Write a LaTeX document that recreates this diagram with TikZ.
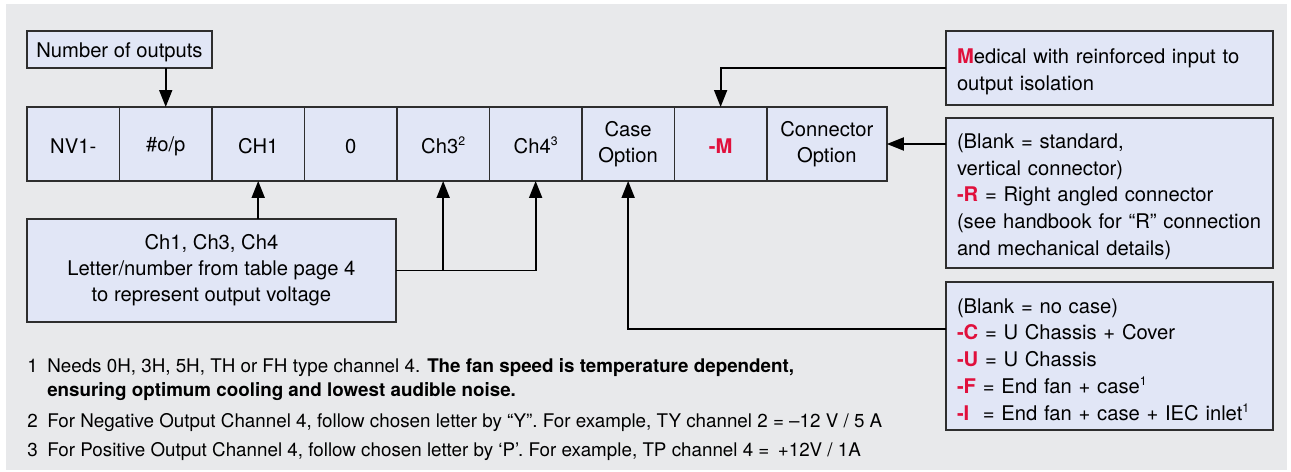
\documentclass[tikz,border=0pt]{standalone}
\usepackage{fontspec}
\setmainfont{TeX Gyre Heros}
\usepackage{xcolor}
\usepackage{tikz}
\usetikzlibrary{arrows.meta,positioning,calc}

\definecolor{bggray}{HTML}{E8E9EB}
\definecolor{boxfill}{HTML}{E1E6F6}
\definecolor{edgegray}{HTML}{2E2E2E}
\definecolor{codered}{HTML}{E0103C}
\newcommand{\code}[1]{\textbf{\color{codered}#1}}
\newcommand{\supnum}[1]{\raisebox{0.75ex}{\fontsize{7}{7}\selectfont #1}}

\begin{document}
\begin{tikzpicture}[
    x=0.02cm, y=-0.02cm,
    node distance=0pt,
    cell/.style={rectangle, draw=edgegray, fill=boxfill, line width=0.8pt, align=center, minimum height=1.48cm, minimum width=1.85cm, inner sep=0pt, outer sep=0pt, font=\fontsize{11.5}{14.8}\selectfont, execute at begin node={\rule{0pt}{11.3pt}}},
    twoline/.style={execute at begin node={\rule{0pt}{14.6pt}}},
    note/.style={rectangle, draw=edgegray, fill=boxfill, line width=0.8pt, align=left, anchor=north west, text width=6.1cm, inner xsep=0.22cm, inner ysep=0pt, outer sep=0pt, font=\fontsize{11.5}{15.2}\selectfont, execute at begin node={\rule{0pt}{12.4pt}}},
    fnote/.style={anchor=west, inner sep=0pt, font=\fontsize{10.7}{13.6}\selectfont},
    arrow/.style={-{Triangle[length=0.34cm, width=0.26cm]}, line width=1.1pt, draw=black}
]
    \useasboundingbox (0,0) rectangle (1291,472);
    \fill [bggray] (6,4) rectangle (1287,470);

    \node [cell, anchor=west] (nv) at (27,144) {NV1-};
    \node [cell, right=of nv] (op) {\#o/p};
    \node [cell, right=of op] (c1) {CH1};
    \node [cell, right=of c1] (zero) {0};
    \node [cell, right=of zero] (c3) {Ch3\supnum{2}};
    \node [cell, right=of c3] (c4) {Ch4\supnum{3}};
    \node [cell, twoline, right=of c4] (cs) {Case\\Option};
    \node [cell, right=of cs] (mm) {\code{-M}};
    \node [cell, twoline, right=of mm, minimum width=2.4cm] (co) {Connector\\Option};

    \node [cell, anchor=north west, minimum width=3.7cm, minimum height=0.74cm] (nout) at (27,31) {Number of outputs};
    \node [cell, anchor=north west, minimum width=7.38cm, minimum height=2.06cm, execute at begin node={\rule{0pt}{15.5pt}}] (chbox) at (27,219) {Ch1, Ch3, Ch4\\Letter/number from table page 4\\to represent output voltage};

    \node [note, minimum height=1.48cm] (medbox) at (946,31) {\code{M}edical with reinforced input to\\output isolation};
    \node [note, minimum height=3cm] (conbox) at (946,118) {(Blank = standard,\\vertical connector)\\\code{-R} = Right angled connector\\(see handbook for ``R'' connection\\and mechanical details)};
    \node [note, minimum height=2.96cm, execute at begin node={}] (casebox) at (946,282) {(Blank = no case)\\\code{-C} = U Chassis + Cover\\\code{-U} = U Chassis\\\code{-F} = End fan + case\supnum{1}\\\code{-I}\ \ = End fan + case + IEC inlet\supnum{1}};

    \node [fnote] (fn1) at (27,380) {\begin{tabular}{@{}l@{\hspace{5.4pt}}l@{}}1 & Needs 0H, 3H, 5H, TH or FH type channel 4. \textbf{The fan speed is temperature dependent,}\\ & \textbf{ensuring optimum cooling and lowest audible noise.}\end{tabular}};
    \node [fnote] (fn2) at (27,423) {\begin{tabular}{@{}l@{\hspace{5.4pt}}l@{}}2 & For Negative Output Channel 4, follow chosen letter by ``Y''. For example, TY channel 2 = --12 V / 5 A\end{tabular}};
    \node [fnote] (fn3) at (27,452) {\begin{tabular}{@{}l@{\hspace{5.4pt}}l@{}}3 & For Positive Output Channel 4, follow chosen letter by `P'. For example, TP channel 4 = \,+12V / 1A\end{tabular}};

    \coordinate (casein) at ($(casebox.north west)+(0,47)$);

    \draw [arrow] (nout.south -| op) -- (op.north);
    \draw [arrow] (medbox.west) -| (mm.north);
    \draw [arrow] (conbox.west |- co.east) -- (co.east);
    \draw [arrow] (casein) -| (cs.south);
    \draw [arrow] (chbox.north -| c1) -- (c1.south);
    \draw [arrow] (chbox.east) -| (c4.south);
    \draw [arrow] (chbox.east -| c3) -- (c3.south);
\end{tikzpicture}
\end{document}
